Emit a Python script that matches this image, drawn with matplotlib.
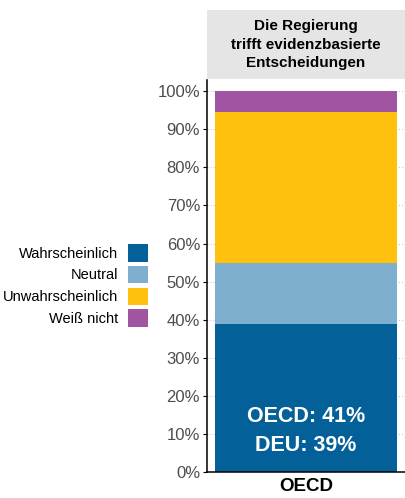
import matplotlib.pyplot as plt
from matplotlib.patches import Patch
from matplotlib.ticker import FuncFormatter

plt.rcParams['font.family'] = ['Liberation Sans', 'DejaVu Sans']

# data
categories = ['OECD']
labels = ['Wahrscheinlich', 'Neutral', 'Unwahrscheinlich', 'Weiß nicht']
values = [39.0, 16.0, 39.5, 5.5]
colors = ['#046099', '#7FAFCE', '#FFC10E', '#A154A1']
strip_title = 'Die Regierung\ntrifft evidenzbasierte\nEntscheidungen'
annot = 'OECD: 41%\nDEU: 39%'

fig = plt.figure(figsize=(4.05, 4.98), dpi=100)
ax = fig.add_axes([0.511, 0.052, 0.489, 0.787])

bottom = 0
for lab, v, c in zip(labels, values, colors):
    ax.bar(categories, [v], bottom=bottom, width=0.915, color=c, label=lab, zorder=2)
    bottom += v

ax.set_xlim(-0.5, 0.5)
ax.set_ylim(0, 102.9)
ax.set_yticks(range(0, 101, 10))
ax.yaxis.set_major_formatter(FuncFormatter(lambda v, p: '%d%%' % v))
ax.grid(axis='y', color='#CCCCCC', linestyle=':', linewidth=0.8, zorder=0)
for s in ['top', 'right']:
    ax.spines[s].set_visible(False)
ax.spines['left'].set_linewidth(1.1)
ax.spines['bottom'].set_linewidth(1.1)
ax.tick_params(axis='y', labelsize=12, labelcolor='#4D4D4D', length=3, width=0.8, pad=2)
ax.tick_params(axis='x', length=0, labelsize=13.5, pad=4)
for t in ax.get_xticklabels():
    t.set_fontweight('bold')

ax.text(0, 10.8, annot, ha='center', va='center', color='white', fontsize=15.5,
        fontweight='bold', linespacing=1.45, zorder=3)

# facet strip
sax = fig.add_axes([0.511, 0.841, 0.489, 0.139])
sax.set_facecolor('#E5E5E5')
sax.set_xticks([])
sax.set_yticks([])
for s in sax.spines.values():
    s.set_visible(False)
sax.text(0.5, 0.5, strip_title, ha='center', va='center', fontsize=11,
         fontweight='bold', linespacing=1.42, transform=sax.transAxes)

handles = [Patch(facecolor=c, label=l) for l, c in zip(labels, colors)]
fig.legend(handles=handles, loc='center right', bbox_to_anchor=(148 / 405, 1 - 285.5 / 498),
           frameon=False, markerfirst=False, fontsize=10.5, borderpad=0, borderaxespad=0,
           handlelength=1.37, handleheight=1.5, labelspacing=0.28, handletextpad=0.7)

fig.savefig('out.png', dpi=100)
